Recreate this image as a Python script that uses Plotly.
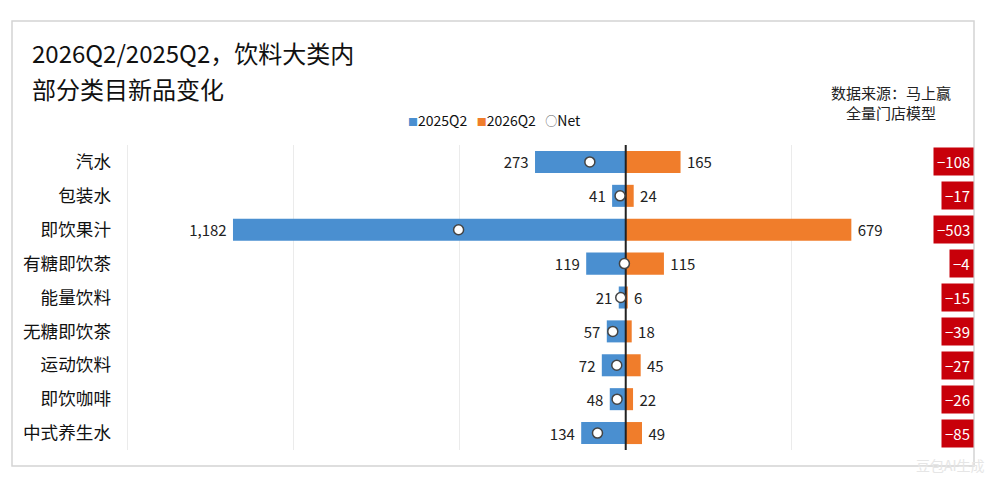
# %% IMPORTS
import plotly.graph_objects as go

# %% DATA
categories = ["汽水", "包装水", "即饮果汁", "有糖即饮茶", "能量饮料", "无糖即饮茶", "运动饮料", "即饮咖啡", "中式养生水"]
q2025 = [273, 41, 1182, 119, 21, 57, 72, 48, 134]
q2026 = [165, 24, 679, 115, 6, 18, 45, 22, 49]
net = [b - a for a, b in zip(q2025, q2026)]

series_names = ["2025Q2", "2026Q2", "Net"]
title_lines = ["2026Q2/2025Q2，饮料大类内", "部分类目新品变化"]
source_text = "数据来源：马上赢<br>全量门店模型"

# %% LAYOUT HELPERS
W, H = 1000, 484
OFF = 8  # the html page puts the figure 8px in from the corner
L, R, T, B = 124 - OFF, 958 - OFF, 145 - OFF, 450 - OFF  # plot area in figure pixels

def px_x(p):
    return (p - OFF - L) / (R - L)

def px_y(p):
    return (B - (p - OFF)) / (B - T)

FONT = "Noto Sans CJK SC"
NBSP = "\u00a0"
BLUE, ORANGE = "#4A8FD0", "#F07D2B"
pos = list(range(len(categories)))

# %% FIGURE
fig = go.Figure()

# blue bars go to the left, so plot them negative
fig.add_trace(go.Bar(x=[-v for v in q2025], y=pos, orientation="h", name=series_names[0],
                     marker=dict(color=BLUE, line=dict(width=0)), width=0.65,
                     text=[f"{v:,}{NBSP}" for v in q2025], textposition="outside",
                     textfont=dict(size=15, color="#222222"), cliponaxis=False))
fig.add_trace(go.Bar(x=q2026, y=pos, orientation="h", name=series_names[1],
                     marker=dict(color=ORANGE, line=dict(width=0)), width=0.65,
                     text=[f"{NBSP}{v:,}" for v in q2026], textposition="outside",
                     textfont=dict(size=15, color="#222222"), cliponaxis=False))

# zero line drawn as a trace so the net dots sit on top of it
fig.add_trace(go.Scatter(x=[0, 0], y=[-0.5, len(categories) - 0.5], mode="lines",
                         line=dict(color="#222222", width=2), showlegend=False, hoverinfo="skip"))

fig.add_trace(go.Scatter(x=net, y=pos, mode="markers", name=series_names[2],
                         marker=dict(symbol="circle", size=10, color="white",
                                     line=dict(color="#444444", width=1.5)), cliponaxis=False))

# red net boxes on the right
for i, v in enumerate(net):
    fig.add_annotation(x=px_x(974), y=i, xref="paper", yref="y", xanchor="right",
                       text=f"{v}".replace("-", "−"), showarrow=False,
                       font=dict(family=FONT, size=15, color="white"),
                       bgcolor="#C8000A", borderpad=3)

# compact legend (plotly's own legend leaves a wide gap after each symbol)
sq = "<span style='font-size:10px;color:{}'>■</span>"
legend_text = (sq.format(BLUE) + series_names[0] + NBSP * 3 + sq.format(ORANGE) + series_names[1] + NBSP * 3
               + "<span style='font-size:12px;color:#666666'>○</span>" + series_names[2])
fig.add_annotation(x=px_x(494), y=px_y(120), xref="paper", yref="paper", xanchor="center", yanchor="middle",
                   text=legend_text, showarrow=False, font=dict(family=FONT, size=14, color="#111111"))

# title and source
fig.add_annotation(x=px_x(30), y=px_y(52), xref="paper", yref="paper", xanchor="left", yanchor="middle",
                   text=title_lines[0], showarrow=False, font=dict(family=FONT, size=24, color="#111111"))
fig.add_annotation(x=px_x(30), y=px_y(88), xref="paper", yref="paper", xanchor="left", yanchor="middle",
                   text=title_lines[1], showarrow=False, font=dict(family=FONT, size=24, color="#111111"))
fig.add_annotation(x=px_x(891), y=px_y(102), xref="paper", yref="paper", xanchor="center", yanchor="middle",
                   text=source_text, showarrow=False, align="center",
                   font=dict(family=FONT, size=15, color="#222222"))
fig.add_annotation(x=px_x(950), y=px_y(465), xref="paper", yref="paper", xanchor="center", yanchor="middle",
                   text="豆包AI生成", showarrow=False, font=dict(family=FONT, size=14, color="#e6e6e6"))

# panel border
fig.add_shape(type="rect", xref="paper", yref="paper", x0=px_x(12), x1=px_x(974), y0=px_y(466), y1=px_y(21),
              line=dict(color="#d4d4d4", width=1.5), layer="below")

fig.update_xaxes(range=[-1510, 1000], tickvals=[-1500, -1000, -500, 0, 500], showticklabels=False,
                 showgrid=True, gridcolor="#ebebeb", gridwidth=1, zeroline=False, showline=False)
fig.update_yaxes(range=[len(categories) - 0.5, -0.5], tickvals=pos, ticktext=categories,
                 showgrid=False, zeroline=False, showline=False, ticks="", ticklabelstandoff=12,
                 tickfont=dict(family=FONT, size=17.6, color="#111111"))

fig.update_layout(autosize=False, width=W, height=H, barmode="relative", bargap=0.35,
                  margin=dict(l=L, r=W - R, t=T, b=H - B),
                  plot_bgcolor="white", paper_bgcolor="white",
                  font=dict(family=FONT, color="#222222"),
                  showlegend=False)

fig.write_html("out.html")
